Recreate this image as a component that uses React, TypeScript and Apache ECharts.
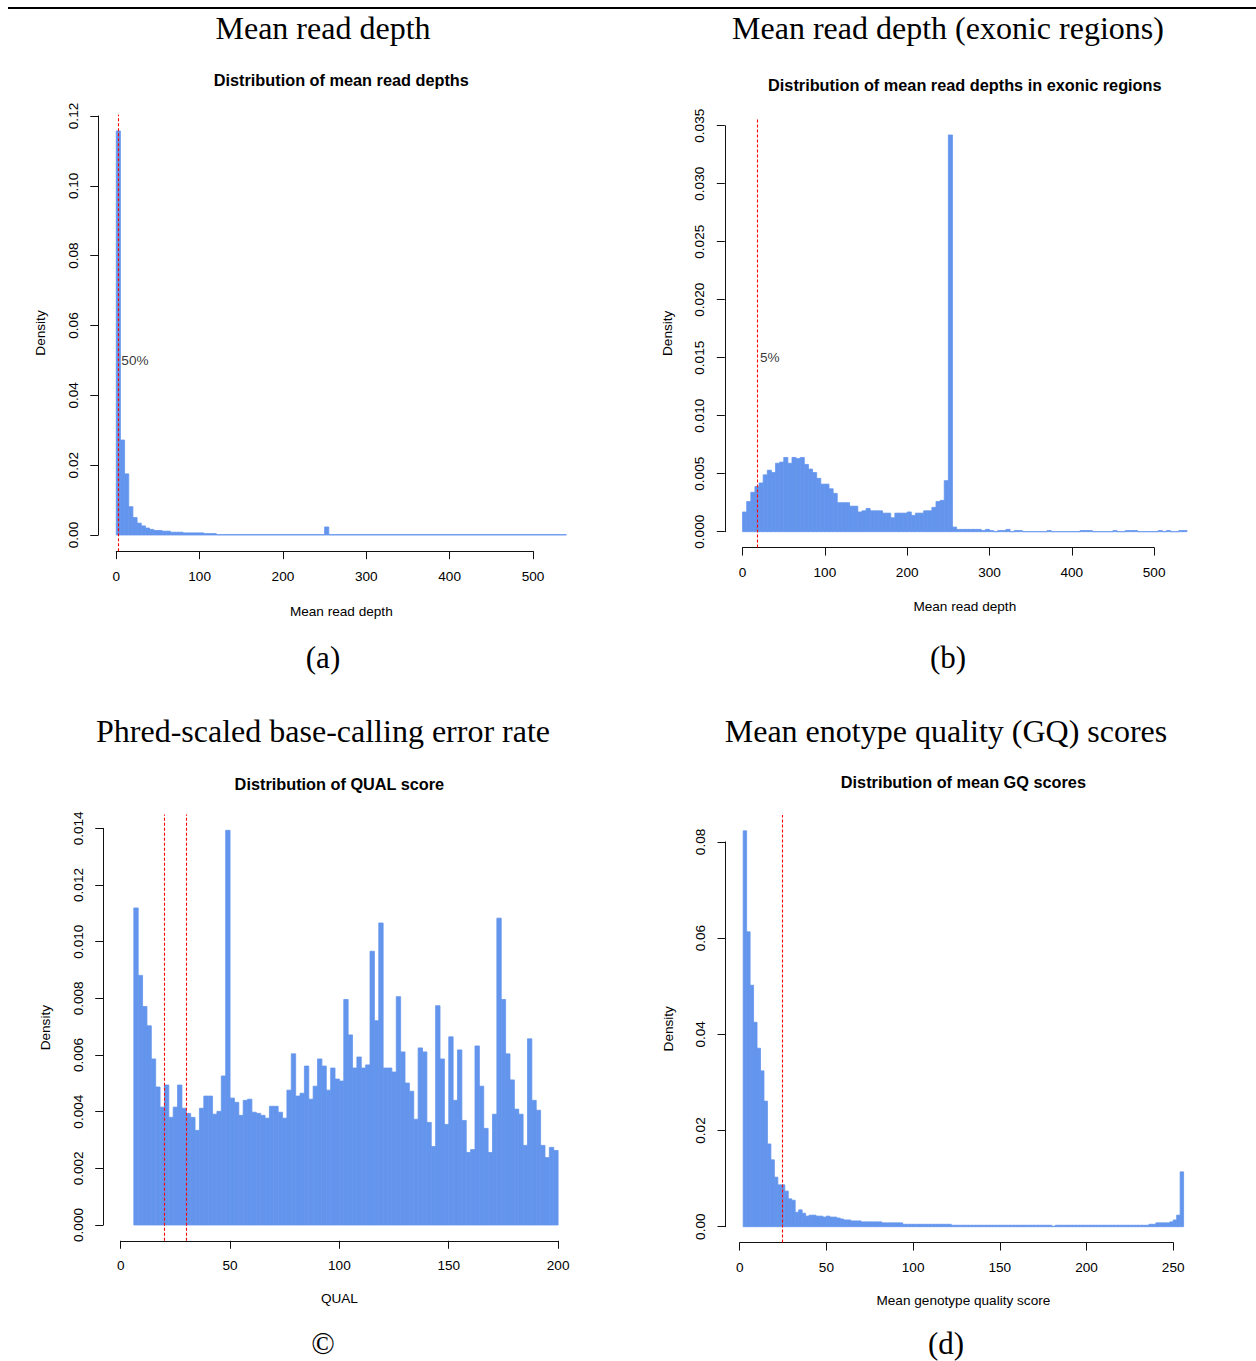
import React, { useEffect, useRef } from "react";
import * as echarts from "echarts";

// ---------- data ----------

// (a) mean read depth per site, density per 5-unit bin starting at 0
const depthBinStart = 0;
const depthBinWidth = 5;
const depthDensity = [
  0.1157, 0.0272, 0.0175, 0.0081, 0.005, 0.0034, 0.0026, 0.002, 0.0016, 0.0013,
  0.0013, 0.0011, 0.0011, 0.0008, 0.0008, 0.0008, 0.0006, 0.0006, 0.0006, 0.0006,
  0.0006, 0.0004, 0.0004, 0.0004, 0.0001, 0.0001, 0.0001, 0.0001, 0.0001, 0.0001,
  0.0001, 0.0001, 0.0001, 0.0001, 0.0001, 0.0001, 0.0001, 0.0001, 0.0001, 0.0001,
  0.0001, 0.0001, 0.0001, 0.0001, 0.0001, 0.0001, 0.0001, 0.0001, 0.0001, 0.0001,
  0.0023, 0.0001, 0.0001, 0.0001, 0.0001, 0.0001, 0.0001, 0.0001, 0.0001, 0.0001,
  0.0001, 0.0001, 0.0001, 0.0001, 0.0001, 0.0001, 0.0001, 0.0001, 0.0001, 0.0001,
  0.0001, 0.0001, 0.0001, 0.0001, 0.0001, 0.0001, 0.0001, 0.0001, 0.0001, 0.0001,
  0.0001, 0.0001, 0.0001, 0.0001, 0.0001, 0.0001, 0.0001, 0.0001, 0.0001, 0.0001,
  0.0001, 0.0001, 0.0001, 0.0001, 0.0001, 0.0001, 0.0001, 0.0001, 0.0001, 0.0001,
  0.0001, 0.0001, 0.0001, 0.0001, 0.0001, 0.0001, 0.0001, 0.0001,
];
const depthCutoffs = [2.5];
const depthCutoffLabel = "50%";
const depthCutoffLabelAt = 0.05;

// (b) mean read depth in exonic regions, 5-unit bins starting at 0
const exonBinStart = 0;
const exonBinWidth = 5;
const exonDensity = [
  0.0017, 0.0026, 0.0034, 0.0039, 0.0042, 0.0049, 0.0053, 0.0051, 0.0059, 0.006,
  0.0064, 0.0059, 0.0064, 0.0063, 0.0064, 0.0058, 0.0054, 0.0051, 0.0046, 0.0041,
  0.0041, 0.0037, 0.0033, 0.0025, 0.0025, 0.0025, 0.0022, 0.0022, 0.0017, 0.0018,
  0.002, 0.0018, 0.0018, 0.0018, 0.0016, 0.0016, 0.0012, 0.0016, 0.0016, 0.0016,
  0.0017, 0.0014, 0.0016, 0.0016, 0.0018, 0.0018, 0.0021, 0.0026, 0.0027, 0.0044,
  0.0342, 0.0004, 0.0002, 0.0002, 0.0002, 0.0002, 0.0002, 0.0002, 0.0001, 0.0002,
  0.0001, 0, 0.0001, 0.0001, 0.0002, 0, 0.0001, 0.0001, 0, 0,
  0, 0, 0, 0, 0.0001, 0, 0, 0, 0, 0,
  0, 0, 0.0001, 0.0001, 0.0001, 0, 0, 0, 0, 0,
  0.0001, 0, 0, 0.0001, 0.0001, 0.0001, 0, 0, 0, 0,
  0, 0.0001, 0, 0.0001, 0, 0, 0.0001, 0.0001,
];
const exonCutoffs = [17.4];
const exonCutoffLabel = "5%";
const exonCutoffLabelAt = 0.015;

// (c) QUAL score, 2-unit bins starting at 6
const qualBinStart = 6;
const qualBinWidth = 2;
const qualDensity = [
  0.01119, 0.00881, 0.00771, 0.00703, 0.00586, 0.00487, 0.00416, 0.00494, 0.0038, 0.00416,
  0.00494, 0.00412, 0.00394, 0.0038, 0.00334, 0.00412, 0.00455, 0.00455, 0.00391, 0.00401,
  0.00526, 0.01393, 0.00448, 0.00433, 0.00387, 0.0044, 0.00444, 0.00398, 0.00394, 0.00387,
  0.00377, 0.00419, 0.00419, 0.00398, 0.00377, 0.00476, 0.00604, 0.00455, 0.00465, 0.00561,
  0.00444, 0.0049, 0.00586, 0.00561, 0.00476, 0.00554, 0.00515, 0.00508, 0.00796, 0.00671,
  0.00554, 0.00593, 0.00554, 0.00565, 0.00966, 0.00721, 0.01066, 0.00554, 0.00554, 0.0054,
  0.00806, 0.00611, 0.00501, 0.00472, 0.00373, 0.00625, 0.00611, 0.00362, 0.00277, 0.00774,
  0.00586, 0.00355, 0.00664, 0.0044, 0.00618, 0.00369, 0.00256, 0.00266, 0.00632, 0.0049,
  0.00341, 0.00256, 0.00391, 0.01083, 0.00796, 0.00604, 0.00512, 0.00409, 0.00391, 0.00281,
  0.00657, 0.0044, 0.00405, 0.00281, 0.00238, 0.00274, 0.00263,
];
const qualCutoffs = [20, 30];

// (d) mean genotype quality score, 2-unit bins starting at 2
const gqBinStart = 2;
const gqBinWidth = 2;
const gqDensity = [
  0.0823, 0.0613, 0.0502, 0.0425, 0.0371, 0.0324, 0.0261, 0.0172, 0.0139, 0.0103,
  0.0087, 0.0087, 0.0074, 0.0058, 0.0055, 0.003, 0.0035, 0.0028, 0.0022, 0.0024,
  0.0024, 0.0022, 0.0022, 0.002, 0.0022, 0.002, 0.002, 0.0018, 0.0016, 0.0014,
  0.0014, 0.0012, 0.0012, 0.0012, 0.001, 0.001, 0.001, 0.001, 0.001, 0.001,
  0.0008, 0.0008, 0.0008, 0.0008, 0.0008, 0.0008, 0.0005, 0.0005, 0.0005, 0.0005,
  0.0005, 0.0005, 0.0005, 0.0005, 0.0005, 0.0005, 0.0005, 0.0005, 0.0005, 0.0005,
  0.0003, 0.0003, 0.0003, 0.0003, 0.0003, 0.0003, 0.0003, 0.0003, 0.0003, 0.0003,
  0.0003, 0.0003, 0.0003, 0.0003, 0.0003, 0.0003, 0.0003, 0.0003, 0.0003, 0.0003,
  0.0003, 0.0003, 0.0003, 0.0003, 0.0003, 0.0003, 0.0003, 0.0003, 0.0003, 0.0001,
  0.0003, 0.0003, 0.0003, 0.0003, 0.0003, 0.0003, 0.0003, 0.0003, 0.0003, 0.0003,
  0.0003, 0.0003, 0.0003, 0.0003, 0.0003, 0.0003, 0.0003, 0.0003, 0.0003, 0.0003,
  0.0003, 0.0003, 0.0003, 0.0003, 0.0003, 0.0003, 0.0003, 0.0005, 0.0005, 0.0008,
  0.0008, 0.0008, 0.0008, 0.001, 0.0014, 0.0024, 0.0114,
];
const gqCutoffs = [24.6];

// ---------- styling ----------

const BAR = "#6495ED";
const CUT = "#FF0000";
const SANS = "'Liberation Sans', Arial, Helvetica, sans-serif";
const SERIF = "'Liberation Serif', 'Times New Roman', serif";
const BASE = 13.6;
const MAIN = 16.3;
const HEAD = 32;

type PanelSpec = {
  binStart: number;
  binWidth: number;
  density: number[];
  cutoffs: number[];
  cutoffLabel?: string;
  cutoffLabelAt?: number;
  xlim: [number, number];
  xTickMax: number;
  xStep: number;
  yTickMax: number;
  yStep: number;
  yDigits: number;
  title: string;
  xLabel: string;
  heading: string;
  tag: string;
  // layout: pixel position of value 0 and pixels per unit on each axis
  x0: number;
  sx: number;
  y0: number;
  sy: number;
  titleY: number;
  xLabelY: number;
  headX: number;
  headY: number;
  tagY: number;
};

const panels: PanelSpec[] = [
  {
    binStart: depthBinStart, binWidth: depthBinWidth, density: depthDensity,
    cutoffs: depthCutoffs, cutoffLabel: depthCutoffLabel, cutoffLabelAt: depthCutoffLabelAt,
    xlim: [0, 540], xTickMax: 500, xStep: 100, yTickMax: 0.12, yStep: 0.02, yDigits: 2,
    title: "Distribution of mean read depths", xLabel: "Mean read depth",
    heading: "Mean read depth", tag: "(a)",
    x0: 116.25, sx: 0.8335, y0: 535, sy: 3492,
    titleY: 80, xLabelY: 611, headX: 323, headY: 28, tagY: 657,
  },
  {
    binStart: exonBinStart, binWidth: exonBinWidth, density: exonDensity,
    cutoffs: exonCutoffs, cutoffLabel: exonCutoffLabel, cutoffLabelAt: exonCutoffLabelAt,
    xlim: [0, 540], xTickMax: 500, xStep: 100, yTickMax: 0.035, yStep: 0.005, yDigits: 3,
    title: "Distribution of mean read depths in exonic regions", xLabel: "Mean read depth",
    heading: "Mean read depth (exonic regions)", tag: "(b)",
    x0: 742.6, sx: 0.823, y0: 531.7, sy: 11600,
    titleY: 85, xLabelY: 606, headX: 948, headY: 28, tagY: 657,
  },
  {
    binStart: qualBinStart, binWidth: qualBinWidth, density: qualDensity,
    cutoffs: qualCutoffs,
    xlim: [0, 200], xTickMax: 200, xStep: 50, yTickMax: 0.014, yStep: 0.002, yDigits: 3,
    title: "Distribution of QUAL score", xLabel: "QUAL",
    heading: "Phred-scaled base-calling error rate", tag: "©",
    x0: 120.7, sx: 2.187, y0: 1225, sy: 28333,
    titleY: 784, xLabelY: 1298, headX: 323, headY: 731, tagY: 1343,
  },
  {
    binStart: gqBinStart, binWidth: gqBinWidth, density: gqDensity,
    cutoffs: gqCutoffs,
    xlim: [2, 256], xTickMax: 250, xStep: 50, yTickMax: 0.08, yStep: 0.02, yDigits: 2,
    title: "Distribution of mean GQ scores", xLabel: "Mean genotype quality score",
    heading: "Mean enotype quality (GQ) scores", tag: "(d)",
    x0: 739.7, sx: 1.734, y0: 1226.7, sy: 4810,
    titleY: 782, xLabelY: 1300, headX: 946, headY: 731, tagY: 1343,
  },
];

function buildOption() {
  const grid: any[] = [];
  const xAxis: any[] = [];
  const yAxis: any[] = [];
  const series: any[] = [];
  const graphic: any[] = [];

  const axisColor = "#111";
  const label = (digits: number) => ({
    color: "#000",
    fontSize: BASE,
    fontFamily: SANS,
    formatter: (v: number) => v.toFixed(digits),
  });

  panels.forEach((p) => {
    const ymax = Math.max(...p.density);
    const xr = p.xlim[1] - p.xlim[0];
    const xlo = p.xlim[0] - 0.04 * xr;
    const xhi = p.xlim[1] + 0.04 * xr;
    const ylo = -0.04 * ymax;
    const yhi = 1.04 * ymax;
    const L = p.x0 + xlo * p.sx;
    const R = p.x0 + xhi * p.sx;
    const T = p.y0 - yhi * p.sy;
    const B = p.y0 - ylo * p.sy;
    const cx = (L + R) / 2;

    // plot region holding the histogram
    const g = grid.length;
    grid.push({ left: L, top: T, width: R - L, height: B - T, outerBoundsMode: "none" });
    xAxis.push({ gridIndex: g, type: "value", min: xlo, max: xhi, show: false });
    yAxis.push({ gridIndex: g, type: "value", min: ylo, max: yhi, show: false });

    // x axis, drawn only across its tick range
    const gx = grid.length;
    grid.push({ left: p.x0, top: B - 10, width: p.xTickMax * p.sx, height: 10, outerBoundsMode: "none" });
    xAxis.push({
      gridIndex: gx, type: "value", position: "bottom", min: 0, max: p.xTickMax, interval: p.xStep,
      axisLine: { show: true, lineStyle: { color: axisColor, width: 1 } },
      axisTick: { show: true, length: 8, inside: false, lineStyle: { color: axisColor, width: 1 } },
      axisLabel: { ...label(0), margin: 18, formatter: (v: number) => String(v) },
      splitLine: { show: false },
    });
    yAxis.push({ gridIndex: gx, type: "value", min: 0, max: 1, show: false });

    // y axis, drawn only across its tick range
    const gy = grid.length;
    grid.push({ left: L, top: p.y0 - p.yTickMax * p.sy, width: 10, height: p.yTickMax * p.sy, outerBoundsMode: "none" });
    xAxis.push({ gridIndex: gy, type: "value", min: 0, max: 1, show: false });
    yAxis.push({
      gridIndex: gy, type: "value", position: "left", min: 0, max: p.yTickMax, interval: p.yStep,
      axisLine: { show: true, lineStyle: { color: axisColor, width: 1 } },
      axisTick: { show: true, length: 8, inside: false, lineStyle: { color: axisColor, width: 1 } },
      axisLabel: { ...label(p.yDigits), margin: 18, rotate: 90 },
      splitLine: { show: false },
    });

    const bins = p.density.map((d, i) => [
      p.binStart + i * p.binWidth,
      p.binStart + (i + 1) * p.binWidth,
      d,
    ]);

    series.push({
      type: "custom",
      xAxisIndex: g,
      yAxisIndex: g,
      data: bins,
      encode: { x: [0, 1], y: 2 },
      renderItem: (_params: any, api: any) => {
        const a = api.coord([api.value(0), 0]);
        const b = api.coord([api.value(1), api.value(2)]);
        return {
          type: "rect",
          shape: { x: a[0], y: b[1], width: b[0] - a[0], height: a[1] - b[1] },
          style: { fill: BAR, stroke: BAR, lineWidth: 0.8 },
        };
      },
      markLine: {
        silent: true,
        symbol: ["none", "none"],
        label: { show: false },
        emphasis: { disabled: true },
        lineStyle: { color: CUT, type: [3, 2], width: 1.1, opacity: 1 },
        data: p.cutoffs.map((c) => ({ xAxis: c })),
      },
    });

    if (p.cutoffLabel) {
      series.push({
        type: "scatter",
        xAxisIndex: g,
        yAxisIndex: g,
        symbolSize: 0,
        silent: true,
        data: p.cutoffs.map((c) => [c, p.cutoffLabelAt]),
        label: {
          show: true,
          position: "right",
          distance: 3,
          formatter: p.cutoffLabel,
          color: "#000",
          fontSize: BASE,
          fontFamily: SANS,
        },
      });
    }

    graphic.push(
      {
        type: "text", x: cx, y: p.titleY,
        style: { text: p.title, fontSize: MAIN, fontWeight: "bold", fontFamily: SANS, fill: "#000", align: "center", verticalAlign: "middle" },
      },
      {
        type: "text", x: cx, y: p.xLabelY,
        style: { text: p.xLabel, fontSize: BASE, fontFamily: SANS, fill: "#000", align: "center", verticalAlign: "middle" },
      },
      {
        type: "text", x: L - 57.5, y: (T + B) / 2, rotation: Math.PI / 2,
        style: { text: "Density", fontSize: BASE, fontFamily: SANS, fill: "#000", align: "center", verticalAlign: "middle" },
      },
      {
        type: "text", x: p.headX, y: p.headY,
        style: { text: p.heading, fontSize: HEAD, fontFamily: SERIF, fill: "#000", align: "center", verticalAlign: "middle" },
      },
      {
        type: "text", x: p.headX, y: p.tagY,
        style: { text: p.tag, fontSize: HEAD - 1, fontFamily: SERIF, fill: "#000", align: "center", verticalAlign: "middle" },
      }
    );
  });

  // rule across the top of the figure
  graphic.push({
    type: "line",
    shape: { x1: 8, y1: 8, x2: 1256, y2: 8 },
    style: { stroke: "#000", lineWidth: 2 },
  });

  return {
    animation: false,
    backgroundColor: "#fff",
    grid,
    xAxis,
    yAxis,
    series,
    graphic,
  };
}

export default function App() {
  const ref = useRef<HTMLDivElement>(null);

  useEffect(() => {
    document.body.style.margin = "0";
    if (!ref.current) return;
    const chart = echarts.init(ref.current, undefined, { renderer: "svg" });
    chart.setOption(buildOption() as any);
    return () => chart.dispose();
  }, []);

  return <div ref={ref} style={{ width: 1256, height: 1361, background: "#fff" }} />;
}
